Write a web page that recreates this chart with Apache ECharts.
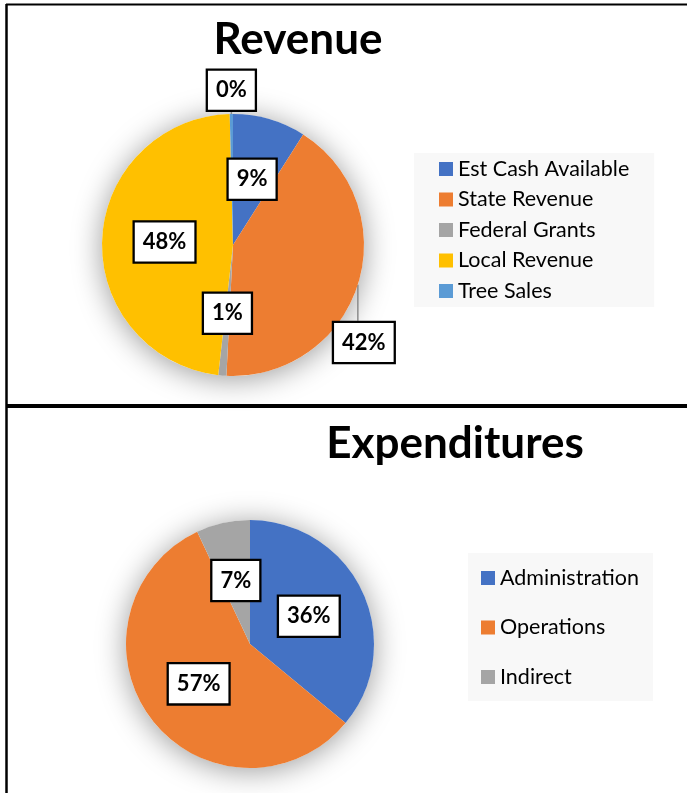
<!DOCTYPE html>
<html>
<head>
<meta charset="utf-8">
<script src="https://cdn.jsdelivr.net/npm/echarts@6/dist/echarts.min.js"></script>
<style>
  html, body { margin: 0; padding: 0; background: #fff; }
  #chart { width: 687px; height: 793px; }
</style>
</head>
<body>
<div id="chart"></div>
<script>
// values (percent of total)
const revenueNames = ["Est Cash Available", "State Revenue", "Federal Grants", "Local Revenue", "Tree Sales"];
const revenueValues = [9.0, 41.8, 1.0, 47.8, 0.4];
const expenditureNames = ["Administration", "Operations", "Indirect"];
const expenditureValues = [36, 57, 7];

const officeColors = ["#4472C4", "#ED7D31", "#A5A5A5", "#FFC000", "#5B9BD5"];
// Excel "best fit" pushed these two labels outside the pie
const outsideLabels = ["State Revenue", "Tree Sales"];

const sum = (arr) => arr.reduce((a, b) => a + b, 0);

const boxLabel = {
  formatter: "{d}%",
  fontFamily: "Lato",
  fontWeight: "bold",
  fontSize: 22,
  lineHeight: 26,
  color: "#000",
  backgroundColor: "#fff",
  borderColor: "#000",
  borderWidth: 2.3,
  padding: [7, 8, 6, 8],
};

function buildData(names, values) {
  return names.map((name, i) => {
    const outside = outsideLabels.includes(name);
    return {
      name: name,
      value: values[i],
      itemStyle: { color: officeColors[i] },
      label: { position: outside ? "outside" : "inside" },
      labelLine: { show: outside },
    };
  });
}

// soft glow under each pie, like the Excel shadow effect
function shadowDisc(center, radius, total) {
  return {
    type: "pie",
    silent: true,
    animation: false,
    center: center,
    radius: radius,
    z: 1,
    data: [{ name: "", value: total }],
    label: { show: false },
    labelLine: { show: false },
    itemStyle: { color: "#fff", shadowBlur: 30, shadowColor: "rgba(0,0,0,0.4)", shadowOffsetY: 3 },
  };
}

const legendText = { fontFamily: "Lato", fontSize: 21.5, lineHeight: 20, color: "#000" };

const chart = echarts.init(document.getElementById("chart"), null, { renderer: "canvas" });

chart.setOption({
  backgroundColor: "#fff",
  animation: false,
  title: [
    {
      text: "Revenue",
      left: 298,
      top: 18,
      textAlign: "center",
      padding: 0,
      textStyle: { fontFamily: "Lato", fontWeight: "bold", fontSize: 44, color: "#000" },
    },
    {
      text: "Expenditures",
      left: 455,
      top: 422,
      textAlign: "center",
      padding: 0,
      textStyle: { fontFamily: "Lato", fontWeight: "bold", fontSize: 44, color: "#000" },
    },
  ],
  legend: [
    {
      data: revenueNames,
      orient: "vertical",
      left: 414,
      top: 153,
      padding: [5, 25, 5, 25],
      itemGap: 8.5,
      itemWidth: 14,
      itemHeight: 14,
      icon: "rect",
      backgroundColor: "#F8F8F8",
      textStyle: legendText,
    },
    {
      data: expenditureNames,
      orient: "vertical",
      left: 468,
      top: 553,
      padding: [14, 14, 13, 13],
      itemGap: 27.5,
      itemWidth: 14,
      itemHeight: 14,
      icon: "rect",
      backgroundColor: "#F8F8F8",
      textStyle: legendText,
    },
  ],
  graphic: [
    // panel frame lines
    { type: "line", shape: { x1: 6, y1: 4.5, x2: 687, y2: 4.5 }, style: { stroke: "#000", lineWidth: 2 } },
    { type: "line", shape: { x1: 6.5, y1: 4, x2: 6.5, y2: 793 }, style: { stroke: "#000", lineWidth: 2.5 } },
    { type: "line", shape: { x1: 6, y1: 406, x2: 687, y2: 406 }, style: { stroke: "#000", lineWidth: 4 } },
  ],
  series: [
    shadowDisc([233, 245], 131, sum(revenueValues)),
    {
      type: "pie",
      name: "Revenue",
      center: [233, 245],
      radius: 131,
      z: 2,
      startAngle: 90,
      clockwise: true,
      avoidLabelOverlap: false,
      percentPrecision: 0,
      data: buildData(revenueNames, revenueValues),
      label: boxLabel,
      labelLine: { length: 10, length2: 0, smooth: false, lineStyle: { color: "#8c8c8c", width: 1.5 } },
      emphasis: { disabled: true },
      labelLayout: function (p) {
        const name = revenueNames[p.dataIndex];
        if (!outsideLabels.includes(name) || !p.labelLinePoints) return {};
        const start = p.labelLinePoints[0];
        const h = p.labelRect.height;
        if (name === "Tree Sales") {
          const top = [start[0], start[1] - 2];
          return { x: start[0], y: top[1] - h / 2, align: "center", verticalAlign: "middle", labelLinePoints: [start, top, top] };
        }
        const drop = [start[0], start[1] + 36];
        return { x: start[0] + 6, y: drop[1] + h / 2, align: "center", verticalAlign: "middle", labelLinePoints: [start, drop, drop] };
      },
    },
    shadowDisc([250, 644], 124, sum(expenditureValues)),
    {
      type: "pie",
      name: "Expenditures",
      center: [250, 644],
      radius: 124,
      z: 2,
      startAngle: 90,
      clockwise: true,
      avoidLabelOverlap: false,
      percentPrecision: 0,
      data: buildData(expenditureNames, expenditureValues),
      label: boxLabel,
      emphasis: { disabled: true },
    },
  ],
});
</script>
</body>
</html>
